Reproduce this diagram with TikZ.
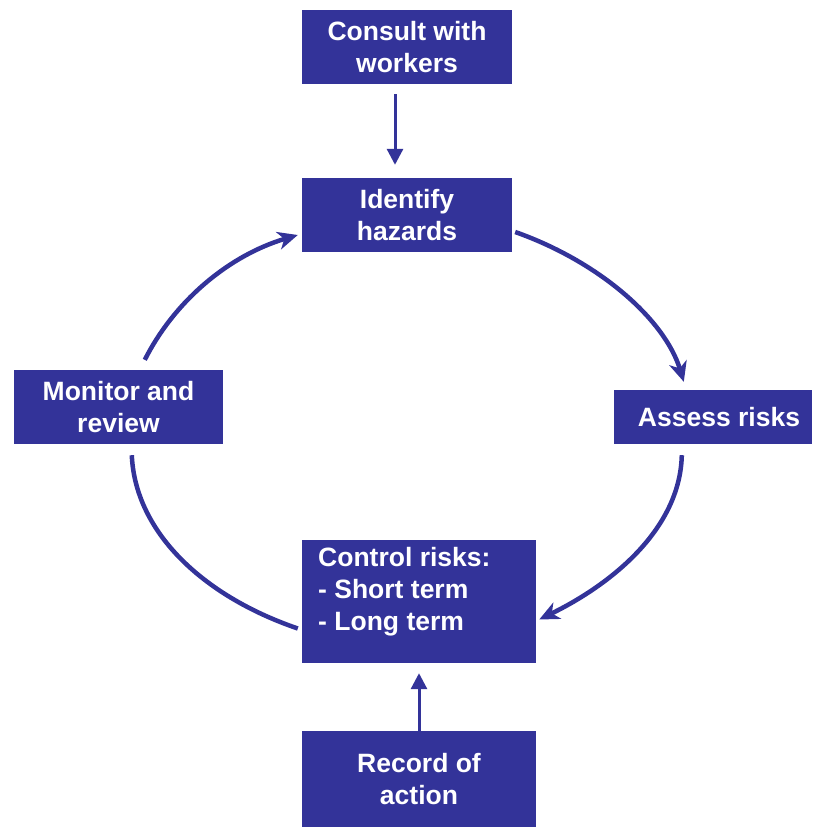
\documentclass[tikz,border=0pt]{standalone}
\usepackage{fontspec}
\setmainfont{Liberation Sans}
\usetikzlibrary{arrows.meta,calc}
\definecolor{boxblue}{HTML}{333399}
\begin{document}
\begin{tikzpicture}[x=1pt,y=-1pt,
  box/.style={fill=boxblue,draw=none,inner sep=0pt,text=white,font=\fontsize{26.5}{32}\selectfont\bfseries,align=center},
  link/.style={draw=boxblue,line width=4.5pt,-{Stealth[length=20pt,width=18pt,inset=6pt]}},
  straight/.style={draw=boxblue,line width=3pt,-{Triangle[length=16pt,width=16pt]}}]
\useasboundingbox (0,0) rectangle (812,827);
\node[box,minimum width=210pt,minimum height=74pt] (cw) at (407,47) {Consult with\\workers};
\node[box,minimum width=210pt,minimum height=74pt] (ih) at (407,215) {Identify\\hazards};
\node[box,minimum width=198pt,minimum height=54pt] (ar) at (713,417) {\makebox[0pt]{\hspace{12pt}Assess risks}};
\node[box,minimum width=209pt,minimum height=74pt] (mr) at (118.5,407) {Monitor and\\review};
\node[box,minimum width=234pt,minimum height=123pt] (cr) at (419,601.5) {};
\node[text=white,font=\fontsize{26.5}{32}\selectfont\bfseries,align=left,anchor=north west,inner sep=0pt] (crt) at (318,547) {Control risks:\\- Short term\\- Long term};
\node[box,minimum width=234pt,minimum height=96pt] (ra) at (419,779) {Record of\\action};
% straight arrows
\draw[straight] ($(cw.south)+(-12,10)$) -- ($(ih.north)+(-12,-13)$);
\draw[straight] ($(ra.north)+(0,0)$) -- ($(cr.south)+(0,10)$);
% cycle curves
\draw[link] ($(ih.east)+(3,17)$) .. controls (600,262) and (665,320) .. ($(ar.north west)+(70,-8)$);
\draw[link] ($(ar.south west)+(68,11)$) .. controls (680,530) and (610,585) .. ($(cr.east)+(3,18)$);
\draw[draw=boxblue,line width=4.5pt] ($(cr.west)+(-4,27)$) .. controls (200,595) and (135,530) .. ($(mr.south west)+(118,11)$);
\draw[link] ($(mr.north west)+(131,-10)$) .. controls (175,300) and (230,255) .. ($(ih.west)+(-4,20)$);
\end{tikzpicture}
\end{document}
